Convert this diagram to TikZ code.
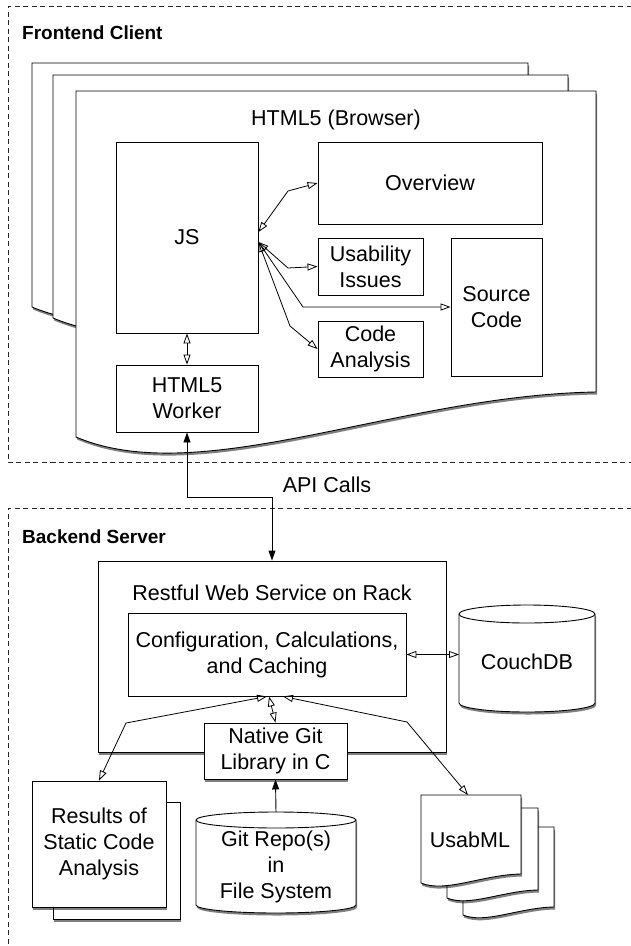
\documentclass[tikz,border=0pt]{standalone}
\usepackage{fontspec}
\setmainfont{Liberation Sans}
\usetikzlibrary{arrows.meta,shadows}

\tikzset{
  lbl/.style={font=\fontsize{21.5}{26}\selectfont, align=center, inner sep=0pt},
  heading/.style={font=\fontsize{19}{23}\selectfont\bfseries, anchor=base west, inner sep=0pt},
  box/.style={draw, line width=0.9pt, fill=white, font=\fontsize{21.5}{26}\selectfont, align=center, inner sep=0pt},
  shadowed/.style={drop shadow={shadow xshift=1pt, shadow yshift=-2.5pt, opacity=0.5, fill=black}},
  region/.style={draw=black!85, line width=0.9pt, dash pattern=on 5pt off 3.5pt},
  link/.style={line width=0.8pt, {Triangle[open,length=10pt,width=7pt]}-{Triangle[open,length=10pt,width=7pt]}},
  call/.style={line width=0.9pt, -{Triangle[length=10pt,width=7pt]}},
  twoway/.style={line width=0.9pt, {Triangle[length=10pt,width=7pt]}-{Triangle[length=10pt,width=7pt]}},
}

% page with a wavy lower edge: left, top, right, y of lower-left corner, y of lower-right corner
\newcommand\wavepage[5]{%
  \draw[line width=0.9pt, fill=white, shadowed] (#1,#2) -- (#3,#2) -- (#3,#5)
    .. controls ({#1+0.62*(#3-#1)},{#5+0.006*(#3-#1)}) and ({#1+0.24*(#3-#1)},{#4+0.102*(#3-#1)}) .. (#1,#4) -- cycle;}

% storage drum: centre x, x radius, y of top cap, y of bottom cap, y radius
\newcommand\drum[5]{%
  \draw[line width=0.9pt, fill=white, shadowed] ({#1-#2},#3) -- ({#1-#2},#4)
    arc[start angle=180, end angle=360, x radius=#2pt, y radius=#5pt] -- ({#1+#2},#3)
    arc[start angle=0, end angle=180, x radius=#2pt, y radius=#5pt] -- cycle;
  \draw[line width=0.9pt] ({#1-#2},#3) arc[start angle=180, end angle=360, x radius=#2pt, y radius=#5pt];}

\begin{document}
\begin{tikzpicture}[x=1pt, y=-1pt]
\useasboundingbox (0,0) rectangle (631,946);

% ---------- client side ----------
\draw[region] (640,6) -- (8,6) -- (8,462) -- (640,462);
\node[heading] (fe) at (22,39) {Frontend Client};

\wavepage{32}{63}{528}{307}{264}
\wavepage{53}{75}{568}{318}{273}
\wavepage{76}{91}{596}{437}{392}
\node[lbl] (browser) at (336,120) {HTML5 (Browser)};

\node[box, minimum width=142pt, minimum height=191pt] (js) at (187,237.5) {JS};
\node[box, minimum width=142pt, minimum height=67pt] (worker) at (187,398.5) {HTML5\\Worker};
\node[box, minimum width=224pt, minimum height=82pt] (ov) at (430,183) {Overview};
\node[box, minimum width=105pt, minimum height=57pt] (uiss) at (370.5,266.5) {Usability\\Issues};
\node[box, minimum width=105pt, minimum height=56pt] (cana) at (370.5,349) {Code\\Analysis};
\node[box, minimum width=91pt, minimum height=138pt] (src) at (496.5,307) {Source\\Code};

\draw[link] ([yshift=5.5pt]js.east) -- (288,191) -- (ov.west);
\draw[link] ([yshift=-4.5pt]js.east) -- (288,268) -- (uiss.west);
\draw[link] ([yshift=-4.5pt]js.east) -- (303,307) -- (src.west);
\draw[link] ([yshift=-4.5pt]js.east) -- (290,326) -- (cana.west);
\draw[link] (js.south) -- (worker.north);

% ---------- server side ----------
\draw[region] (640,508) -- (8,508) -- (8,950);
\node[heading] (be) at (22,543) {Backend Server};

\node[box, shadowed, minimum width=348pt, minimum height=191pt] (rest) at (272,656.5) {};
\node[lbl] (resttitle) at (272,593) {Restful Web Service on Rack};
\node[box, minimum width=278pt, minimum height=83pt] (cfg) at (267,654.5) {Configuration, Calculations,\\and Caching};
\node[box, shadowed, minimum width=143pt, minimum height=56pt] (git) at (275.5,751) {Native Git\\Library in C};

\node[lbl] (apicalls) at (327,485) {API Calls};
\draw[twoway] (worker.south) -- ++(0,65) -| (rest.north);

% database
\drum{527}{68}{614}{703}{9}
\node[lbl] (couch) at (527,662) {CouchDB};
\coordinate (couchL) at (459,654.5);
\draw[link] (cfg.east) -- (couchL);

% analysis results
\node[box, shadowed, minimum width=127pt, minimum height=117pt] (resback) at (116.5,860.5) {};
\node[box, shadowed, minimum width=134pt, minimum height=126pt] (res) at (99,844) {Results of\\Static Code\\Analysis};

% repository
\drum{276}{80}{820}{905}{8}
\node[lbl] (repo) at (276,867) {Git Repo(s)\\in\\File System};
\coordinate (repoTop) at (276,812);
\draw[call] (repoTop) -- (git.south);

% usability documents
\wavepage{463}{827}{554}{915}{907}
\wavepage{447}{808}{538}{898}{890}
\wavepage{421}{795}{521}{883}{874}
\node[lbl] (usab) at (470,840) {UsabML};
\coordinate (usabTop) at (468,795);

\draw[link] (res.north) -- (126,723) -- (cfg.south);
\draw[link] (git.north) -- ([xshift=2pt]cfg.south);
\draw[link] ([xshift=16pt]cfg.south) -- (407,722) -- (usabTop);
\end{tikzpicture}
\end{document}
